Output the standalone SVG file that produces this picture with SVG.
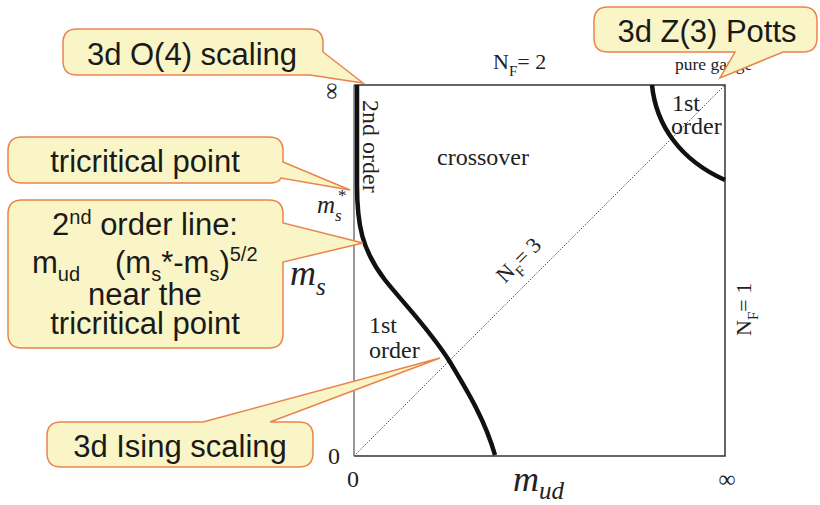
<svg xmlns="http://www.w3.org/2000/svg" width="820" height="505" viewBox="0 0 820 505">
<style>
.call{fill:#faf5c6;stroke:#e8844c;stroke-width:1.5;stroke-linejoin:miter}
.ct{font-family:"Liberation Sans",Arial,sans-serif;font-size:31px;fill:#1a1a1a;text-anchor:middle}
.st{font-family:"Liberation Serif","Times New Roman",serif;font-size:24px;fill:#222}
.mi{font-family:"Liberation Serif","Times New Roman",serif;font-style:italic;fill:#222}
.thick{fill:none;stroke:#111;stroke-width:4.5;stroke-linecap:butt}
</style>
<rect width="820" height="505" fill="#fff"/>
<g id="plot">
<path d="M354,85 H725 V456 H354" fill="none" stroke="#333" stroke-width="1.5"/>
<line x1="354" y1="85" x2="354" y2="456" stroke="#777" stroke-width="1.5"/>
</g>
<g id="connectors">
<line id="nf3-line" x1="354" y1="456" x2="725" y2="85" stroke="#555" stroke-width="1" stroke-dasharray="1.5 1.5"/>
<path id="curve-main" class="thick" d="M357,85 L357,185 C357,225 362,250 385,280 C405,305 430,330 450,362 C468,392 485,420 495,455"/>
<path id="curve-potts" class="thick" d="M652,85 C656,125 680,160 725,180"/>
</g>
<g id="labels">
<text class="st" transform="translate(333,91) rotate(90)" text-anchor="middle" dominant-baseline="central">∞</text>
<text class="st" x="334" y="464" text-anchor="middle">0</text>
<text class="st" x="353" y="487" text-anchor="middle">0</text>
<text class="st" x="727" y="487" text-anchor="middle">∞</text>
<text class="st" transform="translate(363,100) rotate(90)">2nd order</text>
<text class="st" x="437" y="165">crossover</text>
<text class="st" x="369" y="333">1st</text>
<text class="st" x="369" y="358">order</text>
<text class="st" x="672" y="111">1st</text>
<text class="st" x="671" y="134">order</text>
<text class="st" x="675" y="70" style="font-size:17.5px">pure gauge</text>
<text class="st" x="493" y="69" style="font-size:22px">N<tspan font-size="15" dy="7">F</tspan><tspan dy="-7">= 2</tspan></text>
<text class="st" transform="translate(505,284) rotate(-45)" style="font-size:22px">N<tspan font-size="15" dy="7">F</tspan><tspan dy="-7">= 3</tspan></text>
<text class="st" transform="translate(751,336) rotate(-90)" style="font-size:22px">N<tspan font-size="15" dy="7">F</tspan><tspan dy="-7">= 1</tspan></text>
<text class="mi" x="317" y="213" style="font-size:25px">m<tspan font-size="17" dy="8">s</tspan><tspan font-size="17" font-style="normal" x="338" y="201">*</tspan></text>
<text class="mi" x="290" y="285" style="font-size:36px">m<tspan font-size="25" dy="10">s</tspan></text>
<text class="mi" x="513" y="491" style="font-size:36px">m<tspan font-size="25" dy="8">ud</tspan></text>
</g>
<g id="callout-o4">
<path class="call" d="M77,29 H309 Q323,29 323,43 V52 L363,83 L310,75 H77 Q63,75 63,61 V43 Q63,29 77,29 Z"/>
<text class="ct" x="192" y="65">3d O(4) scaling</text>
</g>
<g id="callout-potts">
<path class="call" d="M608,7 H803 Q817,7 817,21 V38 Q817,52 803,52 H783 L720,78 L735,52 H608 Q594,52 594,38 V21 Q594,7 608,7 Z"/>
<text class="ct" x="707" y="42">3d Z(3) Potts</text>
</g>
<g id="callout-tricritical">
<path class="call" d="M22,137 H269 Q283,137 283,151 V162 L350,190 L281,178 Q279,183 269,183 H22 Q8,183 8,169 V151 Q8,137 22,137 Z"/>
<text class="ct" x="145" y="172">tricritical point</text>
</g>
<g id="callout-2ndorder">
<path class="call" d="M22,200 H269 Q283,200 283,214 V223 L363,243 L283,262 V334 Q283,348 269,348 H22 Q8,348 8,334 V214 Q8,200 22,200 Z"/>
<text class="ct" x="145" y="235">2<tspan font-size="20" dy="-11">nd</tspan><tspan dy="11"> order line:</tspan></text>
<text class="ct" x="32" y="273" style="text-anchor:start">m<tspan font-size="20" dy="8">ud</tspan><tspan x="115" dy="-8">(m</tspan><tspan font-size="20" dy="8">s</tspan><tspan dy="-8">*-m</tspan><tspan font-size="20" dy="8">s</tspan><tspan dy="-8">)</tspan><tspan font-size="20" dy="-12">5/2</tspan></text>
<text class="ct" x="145" y="305">near the</text>
<text class="ct" x="145" y="334">tricritical point</text>
</g>
<g id="callout-ising">
<path class="call" d="M61,422 H203 L440,358 L270,422 H299 Q313,422 313,436 V453 Q313,467 299,467 H61 Q47,467 47,453 V436 Q47,422 61,422 Z"/>
<text class="ct" x="180" y="457">3d Ising scaling</text>
</g>
</svg>
